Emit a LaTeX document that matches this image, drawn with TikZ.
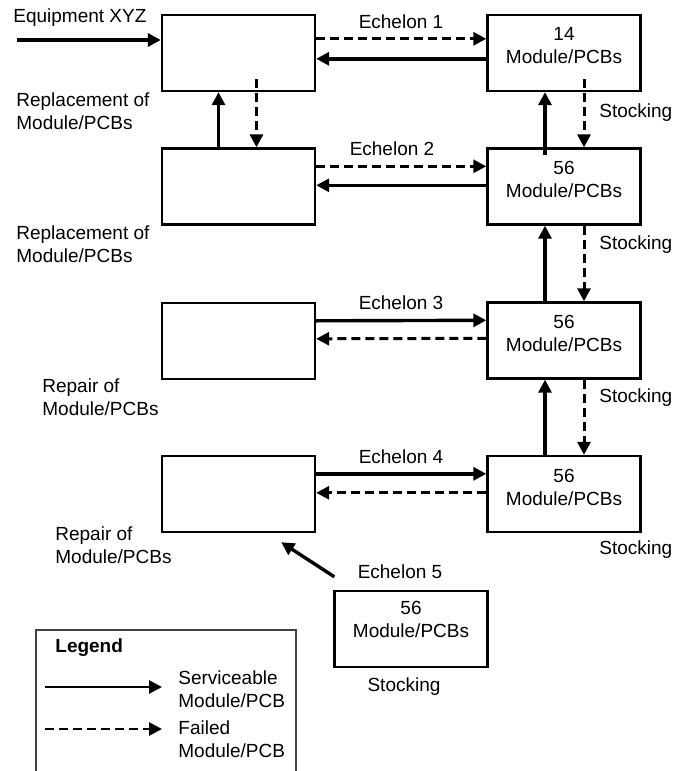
\documentclass[tikz,border=0pt]{standalone}
\usepackage{fontspec}
\setmainfont{Liberation Sans}
\usetikzlibrary{arrows.meta}

\begin{document}
\begin{tikzpicture}[x=0.5pt,y=-0.5pt,
    font=\fontsize{9.5}{11.5}\selectfont,
    box/.style={rectangle,draw,line width=1.2pt,minimum width=76.5pt,minimum height=38pt,inner sep=0pt},
    good/.style={-{Triangle[length=6.5pt,width=6.5pt]},line width=1.7pt},
    bad/.style={-{Triangle[length=6.5pt,width=6.5pt]},line width=1.5pt,dash pattern=on 4.5pt off 2.5pt},
    txt/.style={align=left,anchor=west,inner sep=0pt}]
    \useasboundingbox (0,0) rectangle (686,771);
    % boxes
    \node (l1) at (238.5,53) [box] {};
    \node (l2) at (238.5,186.5) [box] {};
    \node (l3) at (238.5,341) [box] {};
    \node (l4) at (238.5,494) [box] {};
    \node (r1) at (564,53) [box] {};
    \node (r2) at (564,186.5) [box] {};
    \node (r3) at (564,340.5) [box] {};
    \node (r4) at (564,494) [box] {};
    \node (r5) at (411,629) [box] {};
    \node (r1t) at ([yshift=3.5pt]r1.center) [align=center] {14\\Module/PCBs};
    \node (r2t) at ([yshift=3.5pt]r2.center) [align=center] {56\\Module/PCBs};
    \node (r3t) at ([yshift=3.5pt]r3.center) [align=center] {56\\Module/PCBs};
    \node (r4t) at ([yshift=3.5pt]r4.center) [align=center] {56\\Module/PCBs};
    \node (r5t) at ([yshift=5pt]r5.center) [align=center] {56\\Module/PCBs};
    % labels
    \node (eqxyz) at (13,18) [txt] {Equipment XYZ};
    \node (rep1) at (16,111) [txt] {Replacement of\\Module/PCBs};
    \node (rep2) at (16,244) [txt] {Replacement of\\Module/PCBs};
    \node (fix1) at (42,397) [txt] {Repair of\\Module/PCBs};
    \node (fix2) at (55,545) [txt] {Repair of\\Module/PCBs};
    \node (ech1) at (401,22) {Echelon 1};
    \node (ech2) at (392,149) {Echelon 2};
    \node (ech3) at (401,303) {Echelon 3};
    \node (ech4) at (401,457) {Echelon 4};
    \node (ech5) at (400,572) {Echelon 5};
    \node (st1) at (599,113) [txt] {Stocking};
    \node (st2) at (599,245) [txt] {Stocking};
    \node (st3) at (599,398) [txt] {Stocking};
    \node (st4) at (599,550) [txt] {Stocking};
    \node (st5) at (404,687) {Stocking};
    % paths
    \coordinate (eq) at (17,40);
    \draw[good] (eq) -- (eq -| l1.west);
    \draw[bad] ([yshift=-12.5pt]l1.north east) -- ([yshift=-12.5pt]r1.north west);
    \draw[good] ([yshift=-22.5pt]r1.north west) -- ([yshift=-22.5pt]l1.north east);
    \draw[bad] ([yshift=-9.5pt]l2.north east) -- ([yshift=-9.5pt]r2.north west);
    \draw[good] ([yshift=-19pt]r2.north west) -- ([yshift=-19pt]l2.north east);
    \draw[good] ([yshift=-9.5pt]l3.north east) -- ([yshift=-9.5pt]r3.north west);
    \draw[bad] ([yshift=-18.5pt]r3.north west) -- ([yshift=-18.5pt]l3.north east);
    \draw[good] ([yshift=-9.5pt]l4.north east) -- ([yshift=-9.5pt]r4.north west);
    \draw[bad] ([yshift=-19pt]r4.north west) -- ([yshift=-19pt]l4.north east);
    \draw[good] ([xshift=-10pt]l2.north) -- ([xshift=-10pt]l1.south);
    \draw[bad] ([xshift=9pt,yshift=6.5pt]l1.south) -- ([xshift=9pt]l2.north);
    \draw[good] ([xshift=-9.5pt,yshift=-4pt]r2.north) -- ([xshift=-9.5pt]r1.south);
    \draw[bad] ([xshift=10pt,yshift=6.5pt]r1.south) -- ([xshift=10pt]r2.north);
    \draw[good] ([xshift=-9.5pt]r3.north) -- ([xshift=-9.5pt]r2.south);
    \draw[bad] ([xshift=10pt]r2.south) -- ([xshift=10pt]r3.north);
    \draw[good] ([xshift=-9.5pt]r4.north) -- ([xshift=-9.5pt]r3.south);
    \draw[bad] ([xshift=10pt]r3.south) -- ([xshift=10pt]r4.north);
    \draw[good] ([xshift=0.5pt,yshift=6.5pt]r5.north west) -- ([xshift=-17.5pt,yshift=-4.5pt]l4.south east);
    % legend
    \draw[black!75,line width=0.6pt] (36,771) -- (36,630) -- (296,630) -- (296,771);
    \node (leg) at (55,648) [txt] {\textbf{Legend}};
    \coordinate (g0) at (45,687);
    \coordinate (g1) at (162,687);
    \coordinate (b0) at (45,729);
    \coordinate (b1) at (162,729);
    \draw[good,line width=1.4pt] (g0) -- (g1);
    \draw[bad,line width=1.4pt] (b0) -- (b1);
    \node (legg) at (178,689) [txt] {Serviceable\\Module/PCB};
    \node (legb) at (178,739) [txt] {Failed\\Module/PCB};
\end{tikzpicture}
\end{document}
